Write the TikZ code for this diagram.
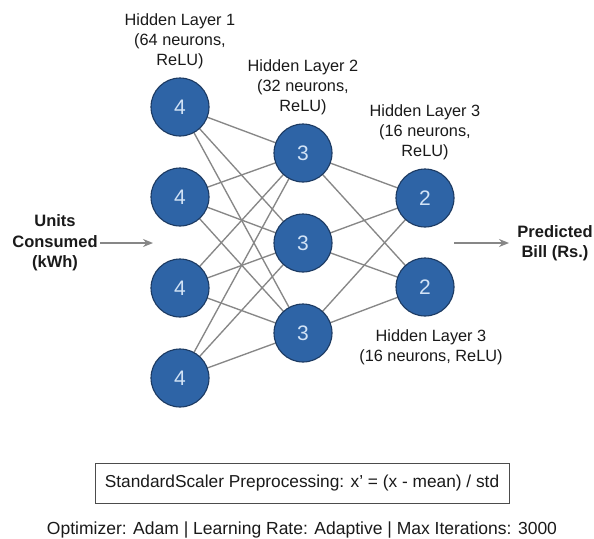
\documentclass[tikz,border=0pt]{standalone}
\usepackage{fontspec}
\setmainfont{Liberation Sans}
\usetikzlibrary{arrows.meta}
\definecolor{nfill}{HTML}{2E64A6}
\definecolor{nedge}{HTML}{1C3A62}
\definecolor{ntext}{HTML}{D2E3F6}
\definecolor{wire}{HTML}{878787}
\definecolor{txt}{HTML}{1A1A1A}
\tikzset{
  neuron/.style={circle,fill=nfill,draw=nedge,line width=1.1pt,minimum size=58pt,inner sep=0pt,text=ntext,font=\fontsize{21}{21}\selectfont},
  conn/.style={draw=wire,line width=1.35pt},
  lbl/.style={align=center,text=txt,font=\fontsize{16.3}{20}\selectfont},
  boldlbl/.style={align=center,text=txt,font=\fontsize{16.5}{20.5}\selectfont\bfseries},
  flow/.style={draw=wire,line width=1.4pt,-{Stealth[length=10pt,width=8pt]}}
}
\begin{document}
\begin{tikzpicture}[x=1pt,y=-1pt]
\useasboundingbox[fill=white] (0,0) rectangle (594,538);
% layer 1
\coordinate (a1) at (180,107);
\coordinate (a2) at (180,197);
\coordinate (a3) at (180,288);
\coordinate (a4) at (180,378);
% layer 2
\coordinate (b1) at (303,153);
\coordinate (b2) at (303,243);
\coordinate (b3) at (303,333);
% layer 3
\coordinate (c1) at (425,198);
\coordinate (c2) at (425,287);
\foreach \i in {1,2,3,4}{\foreach \j in {1,2,3}{\draw[conn] (a\i) -- (b\j);}}
\foreach \i in {1,2,3}{\foreach \j in {1,2}{\draw[conn] (b\i) -- (c\j);}}
% neurons on top
\node[neuron] (n1) at (a1) {4};
\node[neuron] (n2) at (a2) {4};
\node[neuron] (n3) at (a3) {4};
\node[neuron] (n4) at (a4) {4};
\node[neuron] (m1) at (b1) {3};
\node[neuron] (m2) at (b2) {3};
\node[neuron] (m3) at (b3) {3};
\node[neuron] (k1) at (c1) {2};
\node[neuron] (k2) at (c2) {2};
% labels
\node[lbl] (l1) at (180,41) {Hidden Layer 1\\(64 neurons,\\ReLU)};
\node[lbl] (l2) at (303,87) {Hidden Layer 2\\(32 neurons,\\ReLU)};
\node[lbl] (l3) at (425,132) {Hidden Layer 3\\(16 neurons,\\ReLU)};
\node[lbl] (l4) at (431,347) {Hidden Layer 3\\(16 neurons, ReLU)};
% input / output
\node[boldlbl] (in) at (55,243) {Units\\Consumed\\(kWh)};
\coordinate (inS) at (100,243);
\coordinate (inE) at (153,243);
\draw[flow] (inS) -- (inE);
\node[boldlbl] (out) at (555,243) {Predicted\\Bill (Rs.)};
\coordinate (outS) at (454,243);
\coordinate (outE) at (509,243);
\draw[flow] (outS) -- (outE);
% box
\node[draw=black!70,line width=1pt,minimum width=414pt,minimum height=40pt,inner sep=0pt,text=txt,font=\fontsize{17.3}{17.3}\selectfont] (box) at (302,483) {StandardScaler Preprocessing: x\textquoteright{} = (x - mean) / std};
\node[anchor=base,inner sep=0pt,text=txt,font=\fontsize{17.5}{17.5}\selectfont] (opt) at (302,534) {Optimizer: Adam | Learning Rate: Adaptive | Max Iterations: 3000};
\end{tikzpicture}
\end{document}
